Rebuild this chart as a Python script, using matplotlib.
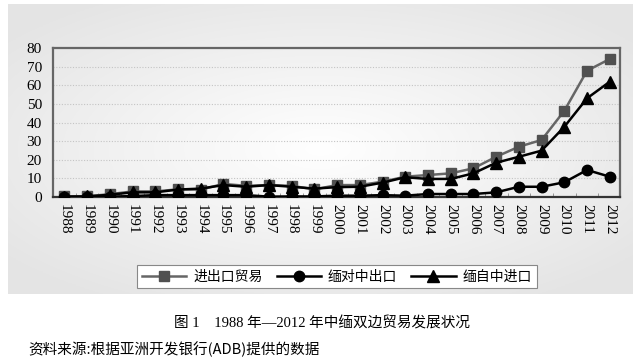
import numpy as np
import matplotlib
matplotlib.use("Agg")
import matplotlib.pyplot as plt

# Data (values in 亿美元)
years = list(range(1988, 2013))
total_trade = [0.3, 0.4, 1.5, 3.0, 3.0, 4.1, 4.0, 7.0, 6.0, 6.4, 6.0, 4.1,
               6.4, 6.4, 8.2, 10.9, 11.8, 12.7, 15.4, 21.6, 27.0, 30.6, 46.3, 67.8, 74.1]
myanmar_export = [0.0, 0.0, 0.2, 0.5, 1.0, 1.0, 1.0, 1.0, 1.0, 0.2, 0.3, 0.3,
                  0.7, 0.7, 1.0, 0.7, 1.6, 1.6, 1.6, 2.5, 5.5, 5.5, 7.9, 14.5, 10.9]
myanmar_import = [0.2, 0.3, 1.2, 2.5, 2.5, 4.0, 4.5, 6.4, 5.5, 6.4, 5.5, 4.5,
                  5.3, 5.5, 7.7, 10.6, 9.7, 9.7, 12.7, 18.4, 21.6, 24.9, 37.7, 53.0, 61.9]
labels = ["进出口贸易", "缅对中出口", "缅自中进口"]
yticks = [0, 10, 20, 30, 40, 50, 60, 70, 80]

title = "图 1　1988 年—2012 年中缅双边贸易发展状况"
source = "资料来源:根据亚洲开发银行(ADB)提供的数据"

mixed = ["Liberation Serif", "Noto Sans CJK SC", "DejaVu Sans"]
cjk = ["Noto Sans CJK SC", "DejaVu Sans"]

fig = plt.figure(figsize=(6.4, 3.58), dpi=100)
fig.patch.set_facecolor("white")

# light gray gradient panel behind the chart
bg = fig.add_axes([8 / 640, 1 - 294 / 358, 625 / 640, 290 / 358], zorder=0)
gx = np.linspace(-1, 1, 300)
gy = np.linspace(-1, 1, 200)
X, Y = np.meshgrid(gx, gy)
r = np.clip(np.sqrt((X * 0.95) ** 2 + Y ** 2), 0, 1.2)
shade = 1.0 - 0.085 * r
bg.imshow(np.dstack([shade, shade, shade]), aspect="auto",
          extent=[0, 1, 0, 1], interpolation="bilinear")
bg.set_axis_off()

ax = fig.add_axes([53 / 640, 1 - 197 / 358, 567 / 640, 149 / 358], zorder=1)
ax.patch.set_alpha(0)

x = np.array(years)
ax.plot(x, total_trade, color="#666666", lw=1.8, marker="s", ms=7.5,
        mfc="#505050", mec="#505050", label=labels[0], zorder=3)
ax.plot(x, myanmar_export, color="black", lw=1.8, marker="o", ms=7.5,
        mfc="black", mec="black", label=labels[1], zorder=4)
ax.plot(x, myanmar_import, color="black", lw=1.8, marker="^", ms=8.5,
        mfc="black", mec="black", label=labels[2], zorder=5)

ax.set_xlim(1987.5, 2012.45)
ax.set_ylim(0, 80)
ax.set_yticks(yticks)
ax.set_xticks(years)
ax.set_xticks(np.arange(1988.5, 2012, 1), minor=True)
ax.set_xticklabels([str(y) for y in years], rotation=-90,
                   fontfamily="Liberation Serif", fontsize=11)
ax.set_yticklabels([str(v) for v in yticks], fontfamily="Liberation Serif", fontsize=11)
ax.tick_params(axis="x", which="major", length=0, pad=5)
ax.tick_params(axis="x", which="minor", length=3, direction="in", color="#888888")
ax.tick_params(axis="y", length=0, pad=8)

for v in yticks[1:-1]:
    ax.axhline(v, color="#c4c4c4", lw=0.8, ls=(0, (1, 1.5)), zorder=1)

for s in ax.spines.values():
    s.set_color("#666666")
    s.set_linewidth(1.6)
ax.spines["bottom"].set_color("#333333")

leg = fig.legend(loc="center", bbox_to_anchor=(337 / 640, 1 - 276.5 / 358), ncol=3,
                 prop={"family": cjk, "size": 10}, frameon=True, fancybox=False,
                 edgecolor="#888888", facecolor="white", framealpha=1,
                 handlelength=3.2, columnspacing=1.0, handletextpad=0.5,
                 borderpad=0.35)
leg.get_frame().set_linewidth(0.8)

fig.text(322 / 640, 1 - 323 / 358, title, ha="center", va="center",
         fontfamily=mixed, fontsize=10.5)
fig.text(28 / 640, 1 - 349 / 358, source, ha="left", va="center",
         fontfamily=cjk, fontsize=10.5, fontweight="medium")

fig.savefig("out.png", dpi=100)
